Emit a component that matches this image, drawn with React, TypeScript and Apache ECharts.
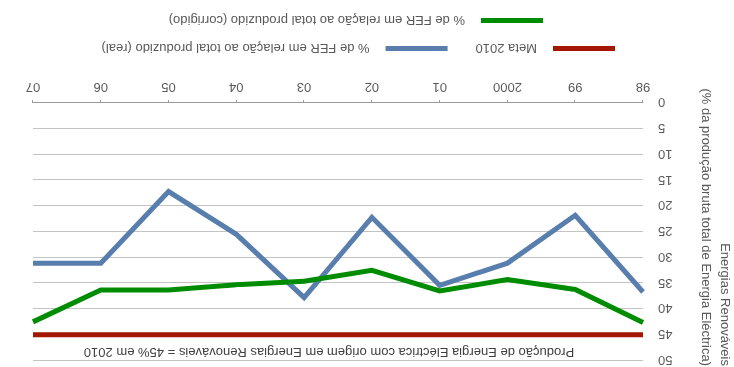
import React, { useEffect, useRef } from "react";
import * as echarts from "echarts";

// Years on the category axis
const years = ["98", "99", "2000", "01", "02", "03", "04", "05", "06", "07"];

// Share of renewables in gross electricity production (%)
const realShare = [36.7, 21.8, 31.1, 35.4, 22.2, 37.8, 25.5, 17.2, 31.1, 31.1];
const correctedShare = [42.6, 36.2, 34.3, 36.5, 32.5, 34.6, 35.3, 36.3, 36.3, 42.5];
const target2010 = 45;
const targetLine = years.map(() => target2010);

const NAME_META = "Meta 2010";
const NAME_REAL = "% de FER em relação ao total produzido (real)";
const NAME_CORR = "% de FER em relação ao total produzido (corrigido)";

const FONT = "'Liberation Sans', Arial, sans-serif";
const TEXT = "#595959";

export default function App() {
  const ref = useRef<HTMLDivElement>(null);

  useEffect(() => {
    if (!ref.current) return;
    const chart = echarts.init(ref.current, undefined, { renderer: "svg" });
    chart.setOption({
      animation: false,
      textStyle: { fontFamily: FONT },
      grid: { left: 91, right: 33, top: 4.7, bottom: 103, containLabel: false },
      legend: [
        {
          data: [NAME_META, NAME_REAL],
          left: 119,
          top: 312,
          padding: 0,
          icon: "rect",
          itemWidth: 62,
          itemHeight: 5,
          itemGap: 28,
          textStyle: { color: TEXT, fontSize: 13, fontFamily: FONT, padding: [0, 0, 0, 11] },
        },
        {
          data: [NAME_CORR],
          left: 191,
          top: 340,
          padding: 0,
          icon: "rect",
          itemWidth: 62,
          itemHeight: 5,
          textStyle: { color: TEXT, fontSize: 13, fontFamily: FONT, padding: [0, 0, 0, 11] },
        },
      ],
      xAxis: {
        type: "category",
        data: years,
        boundaryGap: false,
        axisLine: { lineStyle: { color: "#9a9a9a", width: 1 } },
        axisTick: { show: true, length: 3, lineStyle: { color: "#9a9a9a" } },
        axisLabel: { color: TEXT, fontSize: 13, margin: 9, fontFamily: FONT },
        splitLine: { show: false },
      },
      yAxis: {
        type: "value",
        min: 0,
        max: 50,
        interval: 5,
        axisLine: { show: false },
        axisTick: { show: false },
        axisLabel: { color: TEXT, fontSize: 13, margin: 15, fontFamily: FONT },
        splitLine: { lineStyle: { color: "#c3c3c3", width: 1 } },
      },
      series: [
        {
          name: NAME_META,
          type: "line",
          data: targetLine,
          symbol: "none",
          lineStyle: { color: "#a31600", width: 5 },
          itemStyle: { color: "#a31600" },
          z: 3,
        },
        {
          name: NAME_REAL,
          type: "line",
          data: realShare,
          symbol: "none",
          lineStyle: { color: "#577ead", width: 5, join: "miter" },
          itemStyle: { color: "#577ead" },
          z: 4,
        },
        {
          name: NAME_CORR,
          type: "line",
          data: correctedShare,
          symbol: "none",
          lineStyle: { color: "#008c00", width: 5, join: "miter" },
          itemStyle: { color: "#008c00" },
          z: 5,
        },
      ],
      graphic: [
        {
          type: "text",
          x: 405,
          y: 14,
          style: {
            text: "Produção de Energia Eléctrica com origem em Energias Renováveis = 45% em 2010",
            fill: "#404040",
            font: `13px ${FONT}`,
            textAlign: "center",
            textVerticalAlign: "middle",
          },
        },
        {
          type: "text",
          x: 8,
          y: 1,
          rotation: Math.PI / 2,
          style: {
            text: "Energias Renováveis",
            fill: TEXT,
            font: `13px ${FONT}`,
            textAlign: "right",
            textVerticalAlign: "middle",
          },
        },
        {
          type: "text",
          x: 27,
          y: 1,
          rotation: Math.PI / 2,
          style: {
            text: "(% da produção bruta total de Energia Eléctrica)",
            fill: TEXT,
            font: `13px ${FONT}`,
            textAlign: "right",
            textVerticalAlign: "middle",
          },
        },
      ],
    });
    return () => chart.dispose();
  }, []);

  return (
    <div
      ref={ref}
      style={{
        position: "fixed",
        left: 0,
        top: 0,
        width: 734,
        height: 367,
        background: "#ffffff",
        transform: "rotate(180deg)",
      }}
    />
  );
}
